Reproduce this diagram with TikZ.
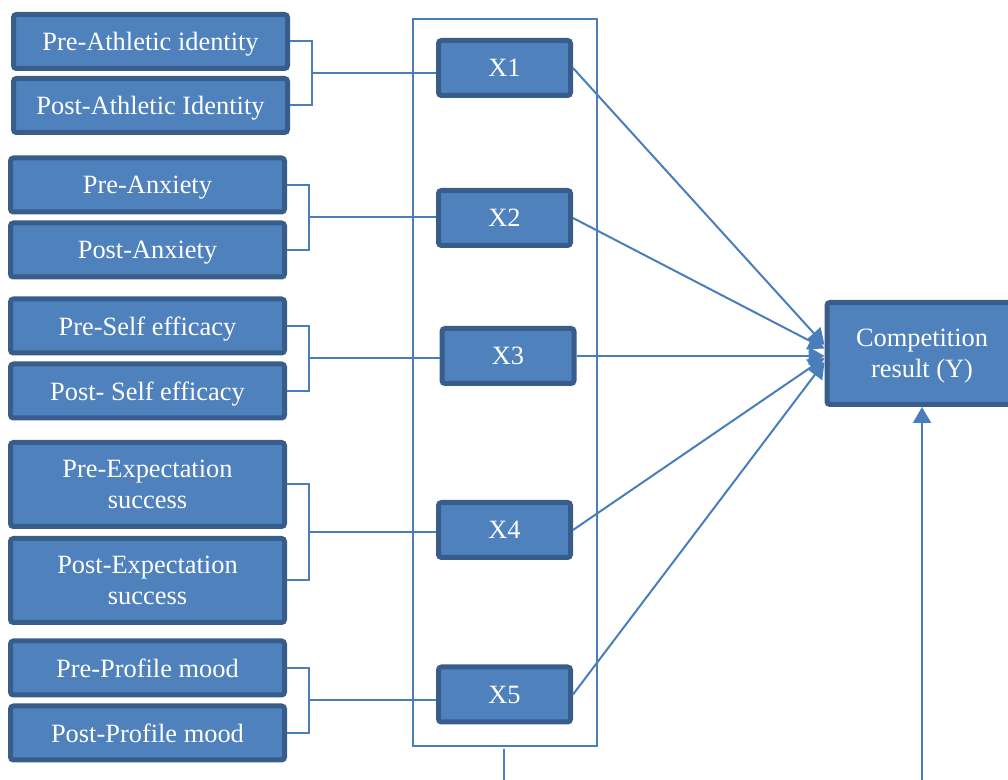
\documentclass[tikz,border=0pt]{standalone}
\usepackage{fontspec}
\setmainfont{Liberation Serif}
\usetikzlibrary{arrows.meta,calc}
\definecolor{boxfill}{RGB}{79,129,189}
\definecolor{boxline}{RGB}{56,93,138}
\definecolor{linkblue}{RGB}{74,126,187}
\tikzset{
  box/.style={draw=boxline, fill=boxfill, line width=2.5pt, rounded corners=1.5pt,
    text=white, font=\fontsize{13.2}{15.5}\selectfont, align=center, inner sep=0pt,
    text depth=0pt},
  varbox/.style={box, minimum width=137pt, minimum height=27pt},
  tallbox/.style={varbox, minimum height=42pt},
  xbox/.style={box, minimum width=66pt, minimum height=27.5pt},
  link/.style={draw=linkblue, line width=1pt},
  arr/.style={link, -{Triangle[width=9pt,length=8pt]}}
}
\begin{document}
\begin{tikzpicture}[x=0.5pt,y=-0.5pt]
        \useasboundingbox (0,0) rectangle (1008,780);

        \node[varbox] (A1) at (150.5,41.5) {Pre-Athletic identity};
        \node[varbox] (A2) at (150.5,105.5) {Post-Athletic Identity};
        \node[varbox] (B1) at (147.5,185) {Pre-Anxiety};
        \node[varbox] (B2) at (147.5,250) {Post-Anxiety};
        \node[varbox] (C1) at (147.5,326) {Pre-Self efficacy};
        \node[varbox] (C2) at (147.5,391) {Post- Self efficacy};
        \node[tallbox] (D1) at (147.5,484.5) {Pre-Expectation\\success};
        \node[tallbox] (D2) at (147.5,580.5) {Post-Expectation\\success};
        \node[varbox] (E1) at (147.5,668) {Pre-Profile mood};
        \node[varbox] (E2) at (147.5,733) {Post-Profile mood};

        \draw[link] (413,19) rectangle (597,746);

        \node[xbox] (X1) at (504.5,68) {X1};
        \node[xbox] (X2) at (504.5,218) {X2};
        \node[xbox] (X3) at (508,356) {X3};
        \node[xbox] (X4) at (504.5,530) {X4};
        \node[xbox] (X5) at (504.5,694.5) {X5};

        \node[box, minimum width=95pt, minimum height=51pt] (Y) at (922,353.5) {Competition\\result (Y)};

        \foreach \p/\q/\x in {A1/A2/X1, B1/B2/X2, C1/C2/X3, D1/D2/X4, E1/E2/X5} {
          \coordinate (J\x) at ([xshift=11pt]$(\p.east)!.5!(\q.east)$);
          \draw[link] (\p.east) -| (J\x) |- (\q.east);
          \draw[link] (J\x) -- (J\x -| \x.west);
        }

        \draw[arr] (X1.east) -- ([yshift=4.25pt]Y.west);
        \draw[arr] (X2.east) -- ([yshift=2.5pt]Y.west);
        \draw[arr] (X3.east) -- (X3.east -| Y.west);
        \draw[arr] (X4.east) -- ([yshift=-2.25pt]Y.west);
        \draw[arr] (X5.east) -- ([yshift=-4.25pt]Y.west);

        \coordinate (S) at (504,749);
        \coordinate (T) at (922,780);
        \draw[link] (S) -- (S |- T);
        \draw[arr] (T) -- (Y.south);
    \end{tikzpicture}
\end{document}
